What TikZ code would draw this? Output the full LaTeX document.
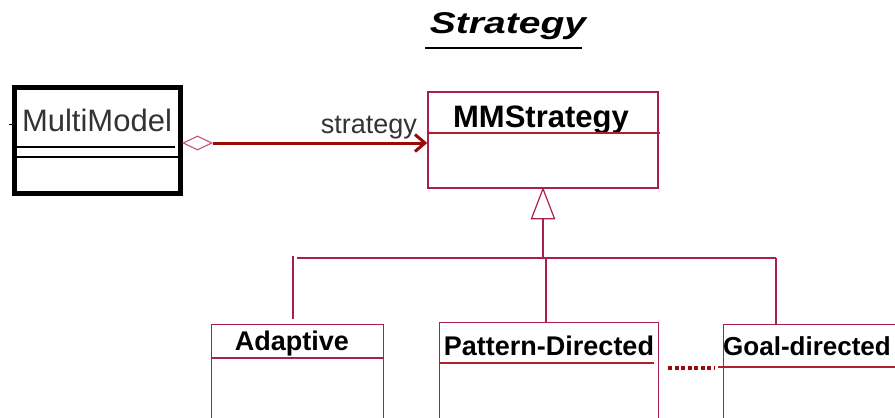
\documentclass[tikz,border=0pt]{standalone}
\usepackage{fontspec}
\usepackage{graphicx}
\setmainfont{Liberation Sans}
\usetikzlibrary{arrows.meta,shapes.geometric,calc}

\definecolor{umlred}{HTML}{A8204E}
\definecolor{assocred}{HTML}{9A0A0A}
\definecolor{divred}{HTML}{B0202A}
\definecolor{diamondpink}{HTML}{C8507A}
\definecolor{labelgray}{HTML}{333333}

\newcommand{\fsz}[1]{\fontsize{#1}{#1}\selectfont}

\begin{document}
\begin{tikzpicture}[x=1pt,y=-1pt,
  classbox/.style={draw=umlred, line width=1.4pt, fill=white, rectangle, inner sep=0pt},
  mainbox/.style={draw=black, line width=5pt, rectangle, inner sep=0pt},
  divider/.style={draw=umlred, line width=1.4pt},
  reddiv/.style={draw=divred, line width=1.4pt},
  bus/.style={draw=umlred, line width=1.4pt},
  assoc/.style={draw=assocred, line width=3pt, -{Straight Barb[length=10pt,width=17pt,line width=3pt]}},
  aggr/.style={draw=diamondpink, line width=1.1pt, diamond, aspect=2, minimum width=29pt, minimum height=14pt, inner sep=0pt},
  gen/.style={draw=umlred, line width=1.2pt, fill=white},
  dotlink/.style={draw=assocred, line width=3.2pt, dash pattern=on 4pt off 2.5pt},
  lbl/.style={inner sep=0pt, anchor=base},
  boldlbl/.style={inner sep=0pt, anchor=base, font=\fsz{27}\bfseries, text=black}
]
\useasboundingbox (0,0) rectangle (895,418);
\clip (0,0) rectangle (895,418);

% title
\node[lbl, font=\fsz{30}\bfseries\itshape] (title) at (508,33) {\scalebox{1.3}[1]{Strategy}};
\draw[black, line width=1.6pt] (425,48) -- (582,48);

% client class
\node[mainbox, minimum width=166pt, minimum height=106pt] (mm) at (97,140) {};
\node[lbl, font=\fsz{31}, text=labelgray] (mmT) at (97,131) {MultiModel};
\draw[black, line width=1.2pt] (16,147) -- (175,147);
\draw[black, line width=1.2pt] (16,157) -- (180,157);
\draw[black, line width=1pt] (9,124) -- (12,124);

% strategy interface
\node[classbox, minimum width=230pt, minimum height=96pt] (mms) at (543,140) {};
\node[lbl, font=\fsz{31}\bfseries, text=black] (mmsT) at (541,127) {MMStrategy};
\draw[reddiv] (mms.west |- 0,133) -- (660,133);

% aggregation
\node[aggr] (dmd) at (197.5,143) {};
\draw[assoc] (dmd.east) -- (mms.west |- dmd.east);
\node[lbl, font=\fsz{27}, text=labelgray, anchor=base east] (roleT) at (417,133) {strategy};

% concrete strategies
\node[classbox, minimum width=172pt, minimum height=110pt, anchor=north west] (ada) at (211,324) {};
\node[boldlbl] (adaT) at (292,350) {Adaptive};
\draw[divider] (ada.west |- 0,358) -- (ada.east |- 0,358);

\node[classbox, minimum width=219pt, minimum height=110pt, anchor=north west] (pat) at (439,322) {};
\node[boldlbl] (patT) at (549,355) {Pattern-Directed};
\draw[reddiv] (pat.west |- 0,363) -- (654,363);

\node[classbox, minimum width=200pt, minimum height=110pt, anchor=north west] (goal) at (723,324) {};
\node[boldlbl, font=\fsz{26}\bfseries, anchor=base west] (goalT) at (723,355) {Goal-directed};
\draw[reddiv] (718,367) -- (900,367);

% generalization tree
\coordinate (triBase) at ($(mms.south)+(0,30)$);
\coordinate (busL) at (297,258);
\coordinate (busR) at (776,258);
\draw[bus] (triBase) -- (triBase |- busL);
\draw[bus] (busL) -- (busR);
\draw[bus] (293,256) -- (293,319);
\draw[bus] (546,258) -- (pat.north -| 546,0);
\draw[bus] (busR) -- (goal.north -| busR);
\draw[gen] (mms.south) -- ($(triBase)+(-11.5,0)$) -- ($(triBase)+(11.5,0)$) -- cycle;

% link between sibling strategies
\draw[dotlink] ($(pat.north east)+(9,46)$) -- ($(goal.north west)+(-8,44)$);
\end{tikzpicture}
\end{document}
